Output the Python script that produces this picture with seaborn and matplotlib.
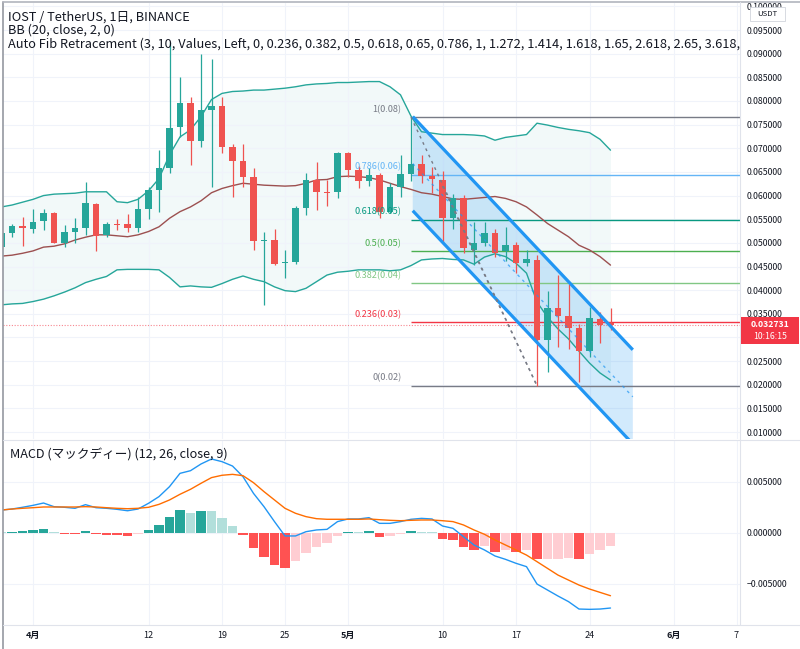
import numpy as np
import pandas as pd
import seaborn as sns
import matplotlib.pyplot as plt
import matplotlib.dates as mdates
from matplotlib.patches import Rectangle, Polygon
from matplotlib.lines import Line2D

# Daily IOST/USDT candles, 2021-03-29 .. 2021-05-26
dates = pd.date_range('2021-03-29', '2021-05-26', freq='D')
opens = [0.0491, 0.0521, 0.0535, 0.0530, 0.0546, 0.0563, 0.0500, 0.0524, 0.0532, 0.0582,
         0.0516, 0.0540, 0.0539, 0.0532, 0.0572, 0.0612, 0.0659, 0.0744, 0.0795, 0.0715,
         0.0781, 0.0789, 0.0703, 0.0674, 0.0640, 0.0503, 0.0506, 0.0457, 0.0459, 0.0573,
         0.0633, 0.0608, 0.0607, 0.0691, 0.0654, 0.0630, 0.0644, 0.0566, 0.0619, 0.0645,
         0.0667, 0.0642, 0.0633, 0.0552, 0.0595, 0.0485, 0.0499, 0.0520, 0.0482, 0.0496,
         0.0457, 0.0464, 0.0295, 0.0362, 0.0346, 0.0320, 0.0272, 0.0339, 0.0330]
highs = [0.0524, 0.0540, 0.0555, 0.0572, 0.0572, 0.0565, 0.0538, 0.0553, 0.0629, 0.0584,
         0.0545, 0.0551, 0.0561, 0.0598, 0.0619, 0.0697, 0.0925, 0.0851, 0.0808, 0.0900,
         0.0889, 0.0809, 0.0709, 0.0709, 0.0658, 0.0524, 0.0529, 0.0485, 0.0577, 0.0647,
         0.0672, 0.0633, 0.0693, 0.0693, 0.0662, 0.0658, 0.0647, 0.0626, 0.0686, 0.0766,
         0.0686, 0.0661, 0.0652, 0.0603, 0.0601, 0.0545, 0.0545, 0.0530, 0.0533, 0.0502,
         0.0486, 0.0474, 0.0399, 0.0432, 0.0414, 0.0328, 0.0365, 0.0354, 0.0362]
lows = [0.0488, 0.0512, 0.0493, 0.0521, 0.0527, 0.0499, 0.0491, 0.0499, 0.0517, 0.0483,
        0.0512, 0.0528, 0.0522, 0.0522, 0.0550, 0.0566, 0.0647, 0.0724, 0.0665, 0.0703,
        0.0619, 0.0689, 0.0598, 0.0619, 0.0485, 0.0369, 0.0453, 0.0425, 0.0455, 0.0559,
        0.0570, 0.0577, 0.0594, 0.0640, 0.0617, 0.0620, 0.0553, 0.0564, 0.0598, 0.0630,
        0.0627, 0.0605, 0.0502, 0.0529, 0.0478, 0.0453, 0.0494, 0.0471, 0.0462, 0.0436,
        0.0451, 0.0198, 0.0228, 0.0279, 0.0275, 0.0206, 0.0259, 0.0288, 0.0316]
closes = [0.0521, 0.0535, 0.0531, 0.0545, 0.0564, 0.0500, 0.0524, 0.0531, 0.0584, 0.0515,
          0.0539, 0.0538, 0.0532, 0.0572, 0.0612, 0.0659, 0.0743, 0.0795, 0.0716, 0.0781,
          0.0789, 0.0703, 0.0674, 0.0640, 0.0505, 0.0505, 0.0455, 0.0459, 0.0573, 0.0633,
          0.0608, 0.0606, 0.0691, 0.0654, 0.0630, 0.0644, 0.0566, 0.0619, 0.0645, 0.0667,
          0.0642, 0.0634, 0.0552, 0.0594, 0.0489, 0.0500, 0.0520, 0.0478, 0.0496, 0.0457,
          0.0465, 0.0295, 0.0362, 0.0345, 0.0319, 0.0272, 0.0341, 0.0326, 0.032731]

# Bollinger Bands (20, close, 2)
bb_upper = [0.0576, 0.0580, 0.0586, 0.0592, 0.0600, 0.0603, 0.0604, 0.0605, 0.0608, 0.0608,
            0.0608, 0.0587, 0.0585, 0.0592, 0.0610, 0.0636, 0.0686, 0.0724, 0.0739, 0.0767,
            0.0803, 0.0816, 0.0820, 0.0821, 0.0823, 0.0823, 0.0825, 0.0827, 0.0830, 0.0834,
            0.0836, 0.0837, 0.0839, 0.0839, 0.0840, 0.0841, 0.0841, 0.0830, 0.0813, 0.0768,
            0.0735, 0.0732, 0.0729, 0.0729, 0.0729, 0.0728, 0.0726, 0.0717, 0.0723, 0.0726,
            0.0729, 0.0753, 0.0749, 0.0744, 0.0740, 0.0737, 0.0733, 0.0719, 0.0696]
bb_basis = [0.0472, 0.0474, 0.0478, 0.0483, 0.0491, 0.0493, 0.0498, 0.0506, 0.0512, 0.0517,
            0.0517, 0.0515, 0.0513, 0.0517, 0.0524, 0.0534, 0.0552, 0.0566, 0.0576, 0.0589,
            0.0606, 0.0615, 0.0621, 0.0626, 0.0624, 0.0622, 0.0621, 0.0620, 0.0621, 0.0626,
            0.0633, 0.0634, 0.0640, 0.0641, 0.0640, 0.0638, 0.0633, 0.0626, 0.0619, 0.0613,
            0.0606, 0.0603, 0.0598, 0.0593, 0.0592, 0.0594, 0.0596, 0.0598, 0.0594, 0.0587,
            0.0576, 0.0559, 0.0541, 0.0527, 0.0513, 0.0495, 0.0485, 0.0471, 0.0453]
bb_lower = [0.0369, 0.0371, 0.0372, 0.0376, 0.0381, 0.0388, 0.0396, 0.0405, 0.0416, 0.0423,
            0.0429, 0.0443, 0.0444, 0.0444, 0.0444, 0.0443, 0.0427, 0.0407, 0.0409, 0.0407,
            0.0406, 0.0414, 0.0423, 0.0430, 0.0423, 0.0418, 0.0407, 0.0399, 0.0397, 0.0404,
            0.0418, 0.0432, 0.0438, 0.0440, 0.0443, 0.0443, 0.0443, 0.0441, 0.0443, 0.0452,
            0.0464, 0.0466, 0.0467, 0.0465, 0.0464, 0.0455, 0.0470, 0.0477, 0.0471, 0.0457,
            0.0436, 0.0375, 0.0343, 0.0318, 0.0297, 0.0271, 0.0246, 0.0225, 0.0210]

# MACD (12, 26, close, 9)
macd_line = [0.00223, 0.00233, 0.00250, 0.00269, 0.00292, 0.00256, 0.00250, 0.00240, 0.00276, 0.00246,
             0.00240, 0.00230, 0.00216, 0.00233, 0.00289, 0.00355, 0.00453, 0.00584, 0.00610, 0.00676,
             0.00725, 0.00699, 0.00656, 0.00551, 0.00387, 0.00256, 0.00109, -0.00032, -0.00032, 0.00010,
             0.00027, 0.00033, 0.00109, 0.00135, 0.00135, 0.00148, 0.00092, 0.00092, 0.00109, 0.00132,
             0.00141, 0.00135, 0.00066, 0.00043, -0.00039, -0.00121, -0.00170, -0.00229, -0.00262, -0.00301,
             -0.00334, -0.00505, -0.00564, -0.00623, -0.00678, -0.00751, -0.00754, -0.00751, -0.00741]
signal_line = [0.00223, 0.00233, 0.00240, 0.00246, 0.00253, 0.00253, 0.00253, 0.00253, 0.00256, 0.00253,
               0.00246, 0.00240, 0.00236, 0.00240, 0.00250, 0.00279, 0.00322, 0.00378, 0.00427, 0.00486,
               0.00542, 0.00565, 0.00574, 0.00561, 0.00492, 0.00404, 0.00322, 0.00240, 0.00191, 0.00158,
               0.00138, 0.00132, 0.00132, 0.00132, 0.00132, 0.00135, 0.00128, 0.00122, 0.00118, 0.00122,
               0.00125, 0.00125, 0.00118, 0.00109, 0.00076, 0.00027, -0.00016, -0.00072, -0.00121, -0.00170,
               -0.00220, -0.00285, -0.00351, -0.00417, -0.00466, -0.00515, -0.00554, -0.00587, -0.00620]
macd_hist = [0.00005, 0.00007, 0.00017, 0.00027, 0.00040, 0.00007, -0.00013, -0.00016, 0.00017, -0.00016,
             -0.00019, -0.00023, -0.00036, -0.00013, 0.00027, 0.00072, 0.00151, 0.00223, 0.00197, 0.00214,
             0.00212, 0.00141, 0.00066, -0.00023, -0.00154, -0.00242, -0.00318, -0.00350, -0.00278, -0.00196,
             -0.00144, -0.00105, -0.00029, 0.00010, 0.00007, 0.00017, -0.00039, -0.00029, -0.00016, 0.00013,
             0.00007, 0.00004, -0.00062, -0.00069, -0.00137, -0.00170, -0.00131, -0.00187, -0.00170, -0.00187,
             -0.00170, -0.00262, -0.00258, -0.00256, -0.00253, -0.00262, -0.00210, -0.00170, -0.00131]

# Auto Fib retracement pivots
fib_high, fib_low = 0.0766, 0.0198
fib_start = '2021-05-07'
fib_ratios = [1, 0.786, 0.618, 0.5, 0.382, 0.236, 0]
fib_colors = ['#787b86', '#64b5f6', '#089981', '#4caf50', '#81c784', '#f23645', '#787b86']

# user drawings: parallel channel and dashed trend lines
chan_dates = ['2021-05-07 04:00', '2021-05-28 03:00']
chan_top = [0.0767, 0.0274]
chan_bottom = [0.0568, 0.0075]
fib_trend_dates = ['2021-05-07', '2021-05-19']
fib_trend_prices = [fib_high, fib_low]
extra_trend_dates = ['2021-05-10', '2021-05-19']
extra_trend_prices = [0.0620, 0.0198]

last_price = 0.032731
countdown = '10:16:15'

tick_dates = ['2021-04-01', '2021-04-12', '2021-04-19', '2021-04-25', '2021-05-01',
              '2021-05-10', '2021-05-17', '2021-05-24', '2021-06-01', '2021-06-07']
tick_labels = ['4月', '12', '19', '25', '5月', '10', '17', '24', '6月', '7']

sns.set_theme(style='white')
plt.rcParams['font.family'] = ['Noto Sans CJK JP', 'DejaVu Sans']
plt.rcParams['axes.unicode_minus'] = True

UP, DOWN = '#26a69a', '#ef5350'
TXT = '#131722'
GRID = '#f0f3fa'

W, H = 800, 649


def fbox(x0, y0, x1, y1):
    return [x0 / W, 1 - y1 / H, (x1 - x0) / W, (y1 - y0) / H]


def fpt(x, y):
    return x / W, 1 - y / H


df = pd.DataFrame({'x': mdates.date2num(dates), 'open': opens, 'high': highs,
                   'low': lows, 'close': closes, 'upper': bb_upper, 'basis': bb_basis,
                   'lower': bb_lower, 'macd': macd_line, 'signal': signal_line,
                   'hist': macd_hist})

fig = plt.figure(figsize=(8, 6.49), dpi=100)
ax = fig.add_axes(fbox(3, 3, 740, 439))
ax2 = fig.add_axes(fbox(3, 440, 740, 625), sharex=ax)

base = mdates.date2num(pd.Timestamp('2021-04-01'))
ax.set_xlim(base - 30 / 10.5, base + 707 / 10.5)
ax.set_ylim(0.00854, 0.10071)
ax2.set_ylim(-0.00908, 0.00912)

# ---- price panel
ax.fill_between(df['x'], df['lower'], df['upper'], color=UP, alpha=0.06, lw=0, zorder=0.5)

cx = mdates.date2num(pd.to_datetime(chan_dates))
ax.add_patch(Polygon([(cx[0], chan_top[0]), (cx[1], chan_top[1]),
                      (cx[1], chan_bottom[1]), (cx[0], chan_bottom[0])],
                     closed=True, facecolor='#2196f3', alpha=0.2, lw=0, zorder=1))

fx0 = mdates.date2num(pd.Timestamp(fib_start))
for r, col in zip(fib_ratios, fib_colors):
    p = fib_low + r * (fib_high - fib_low)
    ax.hlines(p, fx0, ax.get_xlim()[1], color=col, lw=1.0, zorder=1.5)
    ax.annotate(f'{r:g}({p:.2f})', (fx0, p), xytext=(-7, 5.6), textcoords='offset points',
                ha='right', va='center', fontsize=6.6, color=col, zorder=5)

ax.axhline(last_price, color='#f23645', lw=0.8, ls=(0, (1, 1.5)), alpha=0.6, zorder=1.6)

sns.lineplot(data=df, x='x', y='upper', ax=ax, color=UP, lw=1, estimator=None, zorder=2)
sns.lineplot(data=df, x='x', y='lower', ax=ax, color=UP, lw=1, estimator=None, zorder=2)
sns.lineplot(data=df, x='x', y='basis', ax=ax, color='#9c5050', lw=1, estimator=None, zorder=2)

cols = np.where(df['close'] >= df['open'], UP, DOWN)
ax.vlines(df['x'], df['low'], df['high'], colors=cols, lw=0.9, zorder=3)
body = np.maximum((df['close'] - df['open']).abs(), 0.00022)
ax.bar(df['x'], body, bottom=np.minimum(df['open'], df['close']), width=0.66,
       color=cols, lw=0, zorder=3.1)

ax.plot(cx, chan_top, color='#2196f3', lw=2.3, solid_capstyle='butt', zorder=4)
ax.plot(cx, chan_bottom, color='#2196f3', lw=2.3, solid_capstyle='butt', zorder=4)
ax.plot(cx, [(chan_top[0] + chan_bottom[0]) / 2, (chan_top[1] + chan_bottom[1]) / 2],
        color='#2196f3', lw=1, ls=(0, (2, 3)), alpha=0.7, zorder=4)
ax.plot(mdates.date2num(pd.to_datetime(fib_trend_dates)), fib_trend_prices,
        color='#787b86', lw=1, ls=(0, (2, 3)), zorder=4)
ax.plot(mdates.date2num(pd.to_datetime(extra_trend_dates)), extra_trend_prices,
        color='#787b86', lw=1, ls=(0, (2, 3)), zorder=4)

ax.set_yticks(np.arange(0.010, 0.1001, 0.005))
# the 0.030000 label sits under the last-price tag on the original
ax.yaxis.set_major_formatter(plt.FuncFormatter(
    lambda v, _: '' if abs(v - 0.03) < 1e-6 else f'{v:.6f}'))
ax.yaxis.tick_right()
ax.tick_params(axis='y', length=0, pad=4.5, labelsize=6.3, labelcolor=TXT)
ax.tick_params(axis='x', labelbottom=False, length=0)
ax.set_xlabel('')
ax.set_ylabel('')
ax.grid(True, color=GRID, lw=0.8)
ax.set_axisbelow(True)
for s in ax.spines.values():
    s.set_visible(False)

title_lines = ['IOST / TetherUS, 1日, BINANCE', 'BB (20, close, 2, 0)',
               'Auto Fib Retracement (3, 10, Values, Left, 0, 0.236, 0.382, 0.5, 0.618, '
               '0.65, 0.786, 1, 1.272, 1.414, 1.618, 1.65, 2.618, 2.65, 3.618, 3.65, 4.236)']
for i, t in enumerate(title_lines):
    ax.text(*fpt(8, 17 + 13.5 * i), t, transform=fig.transFigure, ha='left', va='center',
            fontsize=9.2, color=TXT, clip_on=True, zorder=6)

# ---- MACD panel
hist_cols = []
prev = macd_hist[0]
for v in macd_hist:
    if v >= 0:
        hist_cols.append('#26a69a' if v > prev else '#b2dfdb')
    else:
        hist_cols.append('#ffcdd2' if v > prev else '#ff5252')
    prev = v
ax2.bar(df['x'], df['hist'], width=0.9, color=hist_cols, lw=0, zorder=2)
sns.lineplot(data=df, x='x', y='macd', ax=ax2, color='#2196f3', lw=1, estimator=None, zorder=3)
sns.lineplot(data=df, x='x', y='signal', ax=ax2, color='#ff6d00', lw=1, estimator=None, zorder=3)

ax2.set_yticks([-0.005, 0.0, 0.005])
ax2.yaxis.set_major_formatter(plt.FuncFormatter(
    lambda v, _: f'{abs(v):.6f}' if abs(v) < 1e-9 else f'{v:.6f}'.replace('-', '−')))
ax2.yaxis.tick_right()
ax2.tick_params(axis='y', length=0, pad=4.5, labelsize=6.3, labelcolor=TXT)
ax2.set_xticks(mdates.date2num(pd.to_datetime(tick_dates)))
ax2.set_xticklabels(tick_labels)
ax2.tick_params(axis='x', length=0, pad=4, labelsize=6.5, labelcolor=TXT)
for lab in ax2.get_xticklabels():
    if '月' in lab.get_text():
        lab.set_fontweight('bold')
ax2.set_xlabel('')
ax2.set_ylabel('')
ax2.grid(True, color=GRID, lw=0.8)
ax2.set_axisbelow(True)
for s in ax2.spines.values():
    s.set_visible(False)
ax2.text(*fpt(10, 455), 'MACD (マックディー) (12, 26, close, 9)', transform=fig.transFigure,
         ha='left', va='center', fontsize=9.1, color=TXT)

# ---- frame lines
for (x0, y0, x1, y1, c, w) in [(3, 2, 3, 649, '#9598a1', 1.2), (3, 2, 800, 2, '#b2b5be', 1.2),
                               (740, 2, 740, 625, '#e0e3eb', 0.8), (3, 439.5, 800, 439.5, '#e0e3eb', 0.8),
                               (3, 625, 800, 625, '#e0e3eb', 0.8)]:
    fig.add_artist(Line2D([x0 / W, x1 / W], [1 - y0 / H, 1 - y1 / H], color=c, lw=w))

# last price tag and currency box
fig.add_artist(Rectangle(fpt(741, 344), 58 / W, 27 / H, transform=fig.transFigure,
                         facecolor='#f23645', edgecolor='none', zorder=10))
fig.text(*fpt(770, 324.5), f'{last_price:.6f}', ha='center', va='center', fontsize=6.3,
         color='white', fontweight='bold', zorder=11)
fig.text(*fpt(770, 336.5), countdown, ha='center', va='center', fontsize=6.3,
         color='white', zorder=11)
fig.add_artist(Rectangle(fpt(750, 21), 35 / W, 14 / H, transform=fig.transFigure,
                         facecolor='white', edgecolor='#d1d4dc', lw=0.6, zorder=10))
fig.text(*fpt(767.5, 14), 'USDT', ha='center', va='center', fontsize=5.6, color=TXT, zorder=11)

fig.savefig('out.png', dpi=100)
